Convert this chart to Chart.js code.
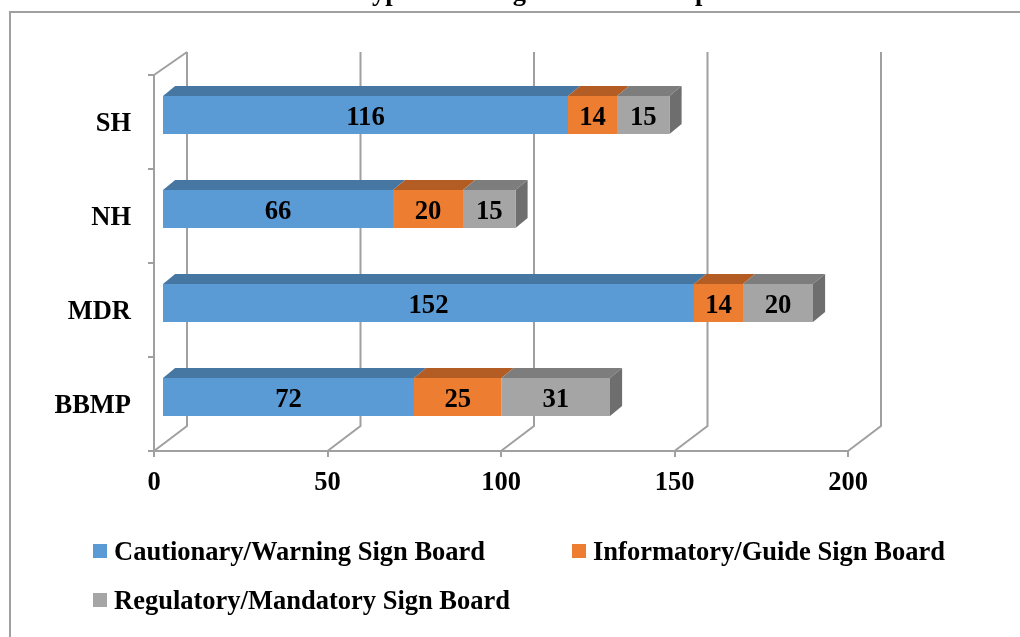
<!DOCTYPE html>
<html>
<head>
<meta charset="utf-8">
<title>Sign boards</title>
<script src="https://cdn.jsdelivr.net/npm/chart.js@4"></script>
<style>
  html, body { margin: 0; padding: 0; background: #fff; overflow: hidden; }
  canvas { display: block; }
</style>
</head>
<body>
<canvas id="chart" width="1020" height="637"></canvas>
<script>
const categories = ['SH', 'NH', 'MDR', 'BBMP'];
const cautionary = [116, 66, 152, 72];
const informatory = [14, 20, 14, 25];
const regulatory = [15, 15, 20, 31];
const xTicks = [0, 50, 100, 150, 200];
const seriesNames = ['Cautionary/Warning Sign Board', 'Informatory/Guide Sign Board', 'Regulatory/Mandatory Sign Board'];
const chartTitle = 'Types Wise Sign Boards Group';
const frontColors = ['#5b9bd5', '#ed7d31', '#a5a5a5'];
const topColors = ['#4577a2', '#b35d24', '#7d7d7d'];
const sideColor = '#6e6e6e';
const gridColor = '#a0a0a0';
const fontName = '"Liberation Serif", "Times New Roman", serif';
const fontSize = 26.5;

// 3D look: bars sit a bit in front of the wall
const wallDx = 33, wallDy = -25, wallTop = 52;
const barDx = 8, barDy = -7, barStretch = 3.5 / 3.47;
const faceDx = 12, faceDy = -10;

const fake3d = {
  id: 'fake3d',
  beforeDraw(chart) {
    // outer frame, runs off the right and the bottom of the picture
    const c = chart.ctx;
    c.save();
    c.strokeStyle = gridColor;
    c.lineWidth = 2;
    c.strokeRect(10, 12, 1100, 700);
    // the title is cut by the top of the picture, only descenders show
    c.fillStyle = '#000';
    c.font = 'bold ' + fontSize + 'px ' + fontName;
    c.textAlign = 'center';
    c.textBaseline = 'alphabetic';
    c.fillText(chartTitle, 533, 0);
    c.restore();
  },
  beforeDatasetsDraw(chart) {
    const c = chart.ctx, area = chart.chartArea, xs = chart.scales.x;
    c.save();
    c.strokeStyle = gridColor;
    c.lineWidth = 2;
    xTicks.forEach(t => {
      const x = xs.getPixelForValue(t);
      c.beginPath();
      c.moveTo(x, area.bottom);
      c.lineTo(x + wallDx, area.bottom + wallDy);
      c.lineTo(x + wallDx, wallTop);
      c.stroke();
    });
    c.beginPath();
    c.moveTo(area.left, area.top);
    c.lineTo(area.left + wallDx, wallTop);
    c.stroke();

    // everything of the bars goes through this transform until afterDatasetsDraw
    c.save();
    c.translate(area.left + barDx, barDy);
    c.scale(barStretch, 1);
    c.translate(-area.left, 0);
    chart.data.datasets.forEach((ds, d) => {
      chart.getDatasetMeta(d).data.forEach(el => {
        const top = el.y - el.height / 2, bot = el.y + el.height / 2;
        c.fillStyle = topColors[d];
        c.beginPath();
        c.moveTo(el.base, top);
        c.lineTo(el.base + faceDx, top + faceDy);
        c.lineTo(el.x + faceDx, top + faceDy);
        c.lineTo(el.x, top);
        c.closePath();
        c.fill();
        if (d === chart.data.datasets.length - 1) {
          c.fillStyle = sideColor;
          c.beginPath();
          c.moveTo(el.x, top);
          c.lineTo(el.x + faceDx, top + faceDy);
          c.lineTo(el.x + faceDx, bot + faceDy);
          c.lineTo(el.x, bot);
          c.closePath();
          c.fill();
        }
      });
    });
  },
  afterDatasetsDraw(chart) {
    const c = chart.ctx;
    c.fillStyle = '#000';
    c.font = 'bold ' + fontSize + 'px ' + fontName;
    c.textAlign = 'center';
    c.textBaseline = 'middle';
    chart.data.datasets.forEach((ds, d) => {
      chart.getDatasetMeta(d).data.forEach((el, i) => {
        c.fillText(ds.data[i], (el.base + el.x) / 2, el.y + 3);
      });
    });
    c.restore();
    c.restore();
  },
  afterDraw(chart) {
    // legend: Chart.js cannot give different row and column gaps
    const c = chart.ctx;
    const spots = [[93, 551], [572, 551], [93, 600]];
    c.save();
    c.font = 'bold ' + fontSize + 'px ' + fontName;
    c.textAlign = 'left';
    c.textBaseline = 'middle';
    chart.data.datasets.forEach((ds, d) => {
      const [x, y] = spots[d];
      c.fillStyle = frontColors[d];
      c.fillRect(x, y - 7, 14, 14);
      c.fillStyle = '#000';
      c.fillText(ds.label, x + 21, y + 2);
    });
    c.restore();
  }
};

new Chart(document.getElementById('chart'), {
  type: 'bar',
  data: {
    labels: categories,
    datasets: [
      { label: seriesNames[0], data: cautionary, backgroundColor: frontColors[0] },
      { label: seriesNames[1], data: informatory, backgroundColor: frontColors[1] },
      { label: seriesNames[2], data: regulatory, backgroundColor: frontColors[2] }
    ]
  },
  options: {
    indexAxis: 'y',
    responsive: false,
    animation: false,
    layout: { padding: { left: 0, right: 172, top: 75, bottom: 0 } },
    categoryPercentage: 1,
    barPercentage: 0.404,
    plugins: {
      legend: { display: false },
      tooltip: { enabled: false },
      title: { display: false }
    },
    scales: {
      x: {
        stacked: true,
        min: 0,
        max: 200,
        afterFit: s => { s.height = 186; },
        afterBuildTicks: s => { s.ticks = xTicks.map(v => ({ value: v })); },
        grid: { drawOnChartArea: false, color: gridColor, lineWidth: 2, tickLength: 6 },
        border: { color: gridColor, width: 2 },
        ticks: { color: '#000', padding: 10, maxRotation: 0, font: { family: fontName, size: fontSize, weight: 'bold' } }
      },
      y: {
        stacked: true,
        afterFit: s => { s.width = 154; },
        grid: { drawOnChartArea: false, color: gridColor, lineWidth: 2, tickLength: 6 },
        border: { color: gridColor, width: 2 },
        ticks: { color: '#000', padding: 17, labelOffset: 2, font: { family: fontName, size: fontSize, weight: 'bold' } }
      }
    }
  },
  plugins: [fake3d]
});
</script>
</body>
</html>
